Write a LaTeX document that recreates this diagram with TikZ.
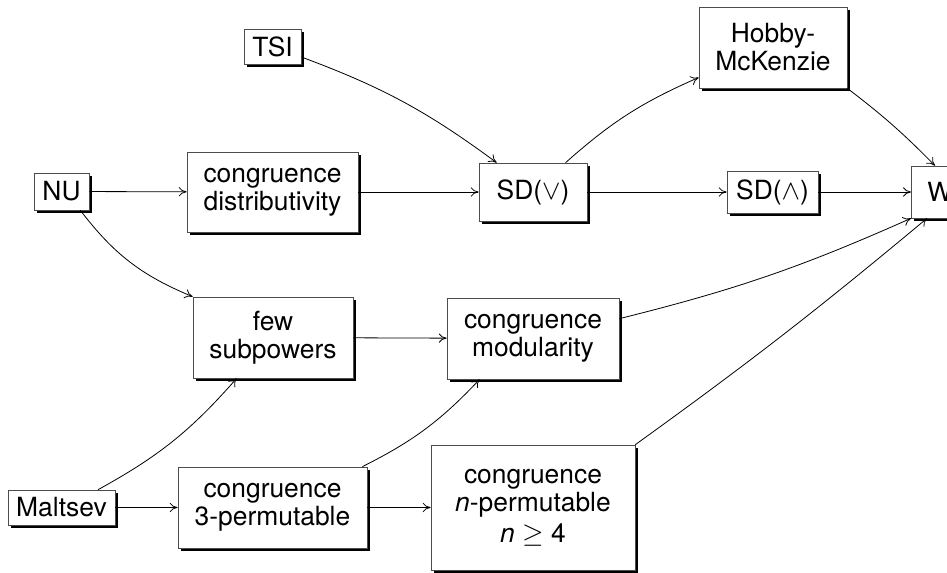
\documentclass[tikz,border=0pt]{standalone}
\usepackage{fontspec}
\setmainfont{TeX Gyre Heros}
\usetikzlibrary{arrows.meta,shadows}

\begin{document}
\begin{tikzpicture}[x=0.75pt,y=-0.75pt,->,>={To[length=6pt,width=7pt]},semithick,
	box/.style={draw=black!70,line width=0.5pt,fill=white,align=center,inner sep=2pt,
		font=\fontsize{19.8pt}{21pt}\selectfont,
		drop shadow={shadow xshift=2.25pt,shadow yshift=-2.25pt,fill=black,opacity=1}}]

	\useasboundingbox (0,0) rectangle (947,573);

	% first column
	\node[box,minimum width=42.75pt,minimum height=26.25pt] (TSI) at (272.5,46.5) {TSI};
	\node[box,minimum width=41.25pt,minimum height=27.75pt] (NU) at (61.5,191.5) {NU};
	\node[box,minimum width=80.25pt,minimum height=26.25pt] (Maltsev) at (61.5,507.5) {Maltsev};

	% second column
	\node[box,minimum width=128.25pt,minimum height=60pt] (cd) at (272.5,192) {congruence\\distributivity};
	\node[box,minimum width=120pt,minimum height=60.75pt] (few) at (273,337.5) {few\\subpowers};
	\node[box,minimum width=141.75pt,minimum height=60.75pt] (c3p) at (272.5,507.5) {congruence\\3-permutable};

	% third column
	\node[box,minimum width=81pt,minimum height=43.5pt] (SDor) at (533,192) {SD($\vee$)};
	\node[box,minimum width=129pt,minimum height=60.75pt] (cm) at (533,338.5) {congruence\\modularity};
	\node[box,minimum width=153pt,minimum height=93.75pt] (cnp) at (533,507.5) {congruence\\\textit{n}-permutable\\[2pt]\textit{n} $\geq$ 4};

	% fourth column
	\node[box,minimum width=111pt,minimum height=60.75pt] (HM) at (773,47.5) {Hobby-\\McKenzie};
	\node[box,minimum width=68.25pt,minimum height=31.5pt] (SDand) at (772.5,192) {SD($\wedge$)};
	\node[box,minimum height=39pt,inner xsep=12pt,text width=40pt,align=left,anchor=west] (W) at (911,192) {W};

	\path
	(NU) edge (cd)
	(NU.-45) edge[bend right=15] (few.north west)
	(TSI.-20) edge[bend left=8] ([xshift=13.5pt]SDor.north west)
	(cd) edge (SDor)
	(SDor) edge (SDand)
	(SDor.42) edge[bend left=9] (HM.202)
	(HM.south east) edge[bend left=4] ([xshift=18pt]W.north west)
	(SDand) edge (W)
	(few) edge (cm)
	(Maltsev.26) edge[bend right=10] ([xshift=33pt]few.south west)
	(Maltsev) edge (c3p)
	([xshift=-3.75pt]c3p.north east) edge[bend right=10] ([xshift=24.75pt]cm.south west)
	(c3p) edge (cnp)
	([yshift=-15.75pt]cm.north east) edge[bend right=5] (W.south west)
	(cnp.north east) edge[bend right=2] ([xshift=12pt]W.south west);

\end{tikzpicture}
\end{document}
